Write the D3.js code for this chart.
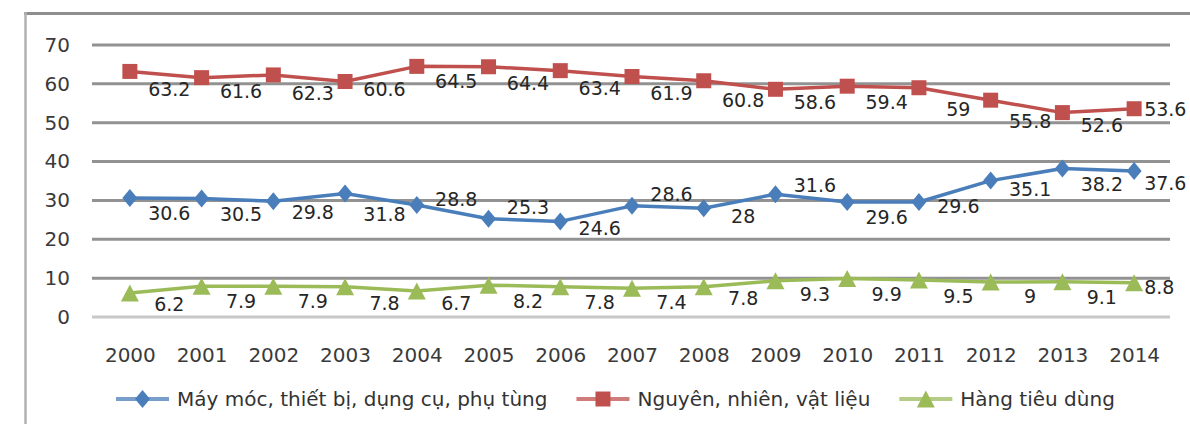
<!DOCTYPE html>
<html>
<head>
<meta charset="utf-8">
<script src="https://cdn.jsdelivr.net/npm/d3@7"></script>
<style>
  html, body { margin: 0; background: #ffffff; }
  svg { display: block; font-family: "DejaVu Sans", sans-serif; }
</style>
</head>
<body>
<svg id="chart" width="1190" height="424"></svg>
<script>
// Import structure by commodity group, 2000-2014 (%)
const years = ["2000", "2001", "2002", "2003", "2004", "2005", "2006", "2007",
               "2008", "2009", "2010", "2011", "2012", "2013", "2014"];
const machinery = [30.6, 30.5, 29.8, 31.8, 28.8, 25.3, 24.6, 28.6, 28, 31.6, 29.6, 29.6, 35.1, 38.2, 37.6];
const materials = [63.2, 61.6, 62.3, 60.6, 64.5, 64.4, 63.4, 61.9, 60.8, 58.6, 59.4, 59, 55.8, 52.6, 53.6];
const consumer  = [6.2, 7.9, 7.9, 7.8, 6.7, 8.2, 7.8, 7.4, 7.8, 9.3, 9.9, 9.5, 9, 9.1, 8.8];
const yTicks = [0, 10, 20, 30, 40, 50, 60, 70];
const seriesNames = ["Máy móc, thiết bị, dụng cụ, phụ tùng", "Nguyên, nhiên, vật liệu", "Hàng tiêu dùng"];

// Marker shapes
const diamond = (hw, hh) => ({ draw(ctx) {
  ctx.moveTo(0, -hh); ctx.lineTo(hw, 0); ctx.lineTo(0, hh); ctx.lineTo(-hw, 0); ctx.closePath();
}});
const square = (h) => ({ draw(ctx) { ctx.rect(-h, -h, 2 * h, 2 * h); }});
const triangle = (hw, hh) => ({ draw(ctx) {
  ctx.moveTo(0, -hh); ctx.lineTo(hw, hh); ctx.lineTo(-hw, hh); ctx.closePath();
}});

const series = [
  { name: seriesNames[0], values: machinery, color: "#4a7ebb", shape: diamond(7.5, 9),
    labelsAbove: ["2004", "2005", "2007", "2009"], lastDy: 12 },
  { name: seriesNames[1], values: materials, color: "#c0504d", shape: square(7.5),
    labelsAbove: [], lastDy: 1 },
  { name: seriesNames[2], values: consumer, color: "#9bbb59", shape: triangle(9, 8.5),
    labelsAbove: [], lastDy: 5 }
];

const svg = d3.select("#chart");
const plotLeft = 92, plotRight = 1170;

const x = d3.scalePoint().domain(years).range([94, plotRight]).padding(0.5);
const y = d3.scaleLinear().domain([0, 70]).range([317, 45]);

// Outer frame (top and left edges)
svg.append("line").attr("x1", 24).attr("x2", 1190).attr("y1", 13.5).attr("y2", 13.5)
  .attr("stroke", "#8e8e8e").attr("stroke-width", 3);
svg.append("line").attr("x1", 25.5).attr("x2", 25.5).attr("y1", 12).attr("y2", 424)
  .attr("stroke", "#b2b2b2").attr("stroke-width", 2.5);

// Horizontal gridlines
svg.append("g").selectAll("line").data(yTicks).join("line")
  .attr("x1", plotLeft).attr("x2", plotRight)
  .attr("y1", d => y(d)).attr("y2", d => y(d))
  .attr("stroke", d => d === 0 ? "#c8c8c8" : "#929292")
  .attr("stroke-width", 3);

// Y axis labels
const yAxis = svg.append("g").attr("transform", `translate(${plotLeft},0)`)
  .call(d3.axisLeft(y).tickValues(yTicks).tickSize(0).tickPadding(22).tickFormat(d3.format("d")));
yAxis.select(".domain").remove();
yAxis.selectAll("text").attr("font-size", 20).attr("fill", "#3a3a3a")
  .attr("font-family", "DejaVu Sans, sans-serif");

// X axis labels
const xAxis = svg.append("g").attr("transform", `translate(0,${y(0)})`)
  .call(d3.axisBottom(x).tickSize(0).tickPadding(31));
xAxis.select(".domain").remove();
xAxis.selectAll("text").attr("font-size", 20).attr("fill", "#3a3a3a")
  .attr("font-family", "DejaVu Sans, sans-serif");

const line = d3.line().x((d, i) => x(years[i])).y(d => y(d));
const step = x.step();

series.forEach(s => {
  const g = svg.append("g");
  g.append("path").datum(s.values).attr("d", line)
    .attr("fill", "none").attr("stroke", s.color).attr("stroke-width", 3.5)
    .attr("stroke-linejoin", "round");

  g.selectAll("path.marker").data(s.values).join("path").attr("class", "marker")
    .attr("d", d3.symbol().type(s.shape))
    .attr("transform", (d, i) => `translate(${x(years[i])},${y(d)})`)
    .attr("fill", s.color);

  // Value labels: centred beside each segment, the last one to the right of its point
  const n = s.values.length;
  g.selectAll("text").data(s.values).join("text")
    .attr("font-size", 19).attr("fill", "#262626")
    .attr("text-anchor", (d, i) => i === n - 1 ? "start" : "middle")
    .attr("x", (d, i) => i === n - 1 ? x(years[i]) + 10 : x(years[i]) + step * 0.55)
    .attr("y", (d, i) => {
      if (i === n - 1) return y(d) + s.lastDy;
      const mid = (y(d) + y(s.values[i + 1])) / 2;
      return mid + (s.labelsAbove.includes(years[i]) ? -13 : 15);
    })
    .attr("dy", "0.35em")
    .text(d => String(d));
});

// Legend
const legend = svg.append("g").attr("transform", "translate(116,399)");
let lx = 0;
series.forEach(s => {
  const item = legend.append("g").attr("transform", `translate(${lx},0)`);
  item.append("line").attr("x1", 0).attr("x2", 53).attr("y1", 0).attr("y2", 0)
    .attr("stroke", s.color).attr("stroke-width", 4).attr("stroke-opacity", 0.75);
  item.append("path").attr("d", d3.symbol().type(s.shape))
    .attr("transform", "translate(26.5,0)").attr("fill", s.color);
  const t = item.append("text").attr("x", 61).attr("dy", "0.35em")
    .attr("font-size", 20).attr("fill", "#333333").text(s.name);
  lx += 61 + t.node().getComputedTextLength() + 29;
});
</script>
</body>
</html>
